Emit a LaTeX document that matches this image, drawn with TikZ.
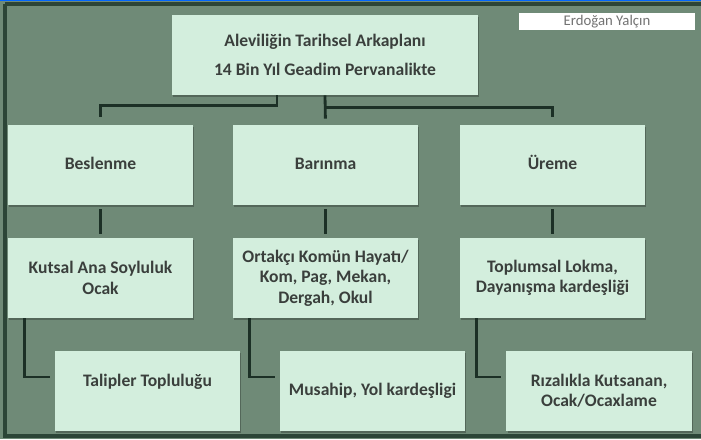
\documentclass[tikz,border=0pt]{standalone}
\usepackage{fontspec}
\setmainfont{Carlito}
\usepackage{tikz}
\usetikzlibrary{positioning,shadows}

\definecolor{bggreen}{HTML}{6F8A77}
\definecolor{framegreen}{HTML}{2C4537}
\definecolor{boxmint}{HTML}{D3EEDD}
\definecolor{linedark}{HTML}{1C3026}
\definecolor{txtgray}{HTML}{3A3F3C}

\begin{document}
\begin{tikzpicture}[x=0.025cm, y=-0.025cm,
    box/.style={draw=none, fill=boxmint, text=txtgray, align=center,
        font=\fontsize{12.5}{14.5}\selectfont\bfseries,
        minimum width=4.625cm, minimum height=2cm, inner sep=2pt,
        drop shadow={shadow xshift=1pt, shadow yshift=-1.2pt, fill=black, opacity=0.25}},
    oneline/.style={text height=1.6ex, text depth=0.3ex},
    conn/.style={draw=linedark, line width=2pt}]
    % Background and frame
    \useasboundingbox (0,0) rectangle (701,439);
    \fill[bggreen] (0,0) rectangle (701,439);
    \draw[framegreen, line width=2.5pt] (5,4) -- (5,436) -- (701,436);
    \draw[framegreen, line width=2.5pt] (5,4) -- (701,4);
    \draw[blue!60!cyan, line width=0.6pt] (0,0.6) -- (701,0.6);

    % Author label
    \node[fill=white, minimum width=4.4cm, minimum height=0.42cm, inner sep=0pt,
        text=gray!90!black, font=\fontsize{10.5}{11}\selectfont] (author) at (607,21.5) {Erdoğan Yalçın};

    % Top box
    \node[box, minimum width=7.65cm] (root) at (325,55)
        {Aleviliğin Tarihsel Arkaplanı\\[6pt]14 Bin Yıl Geadim Pervanalikte};

    % First level
    \node[box, oneline] (besl) at (100.5,165) {Beslenme};
    \node[box, oneline] (barin) at (325.5,165) {Barınma};
    \node[box, oneline] (ureme) at (552.5,165) {Üreme};

    % Second level
    \node[box] (ocak) at (100.5,278) {Kutsal Ana Soyluluk\\Ocak};
    \node[box] (komun) at (325.5,278) {Ortakçı Komün Hayatı/\\Kom, Pag, Mekan,\\Dergah, Okul};
    \node[box] (lokma) at (552.5,278) {Toplumsal Lokma,\\Dayanışma kardeşliği};

    % Third level
    \node[box] (talip) at (147.5,391) {Talipler Topluluğu\\\mbox{}};
    \node[box, oneline] (musah) at (372.5,391) {Musahip, Yol kardeşligi};
    \node[box] (riza) at (599,391) {Rızalıkla Kutsanan,\\Ocak/Ocaxlame};

    % Connectors from the top box
    \draw[conn, shorten >=0.2cm] ([xshift=-1.2cm]root.south) -- ++(0,10) -| (besl.north);
    \draw[conn, shorten >=0.15cm] (root.south) -- (barin.north);
    \draw[conn, shorten >=0.2cm] ([yshift=-0.3cm]root.south) -| (ureme.north);

    % Connectors down to the second level
    \draw[conn, shorten <=0.1cm, shorten >=0.1cm] (besl) -- (ocak);
    \draw[conn, shorten <=0.1cm, shorten >=0.1cm] (barin) -- (komun);
    \draw[conn, shorten <=0.1cm, shorten >=0.1cm] (ureme) -- (lokma);

    % Elbows to the third level
    \draw[conn, shorten >=0.12cm] ([xshift=0.425cm]ocak.south west) |- ([yshift=0.35cm]talip.west);
    \draw[conn, shorten >=0.12cm] ([xshift=0.425cm]komun.south west) |- ([yshift=0.35cm]musah.west);
    \draw[conn, shorten >=0.12cm] ([xshift=0.425cm]lokma.south west) |- ([yshift=0.35cm]riza.west);
\end{tikzpicture}
\end{document}
